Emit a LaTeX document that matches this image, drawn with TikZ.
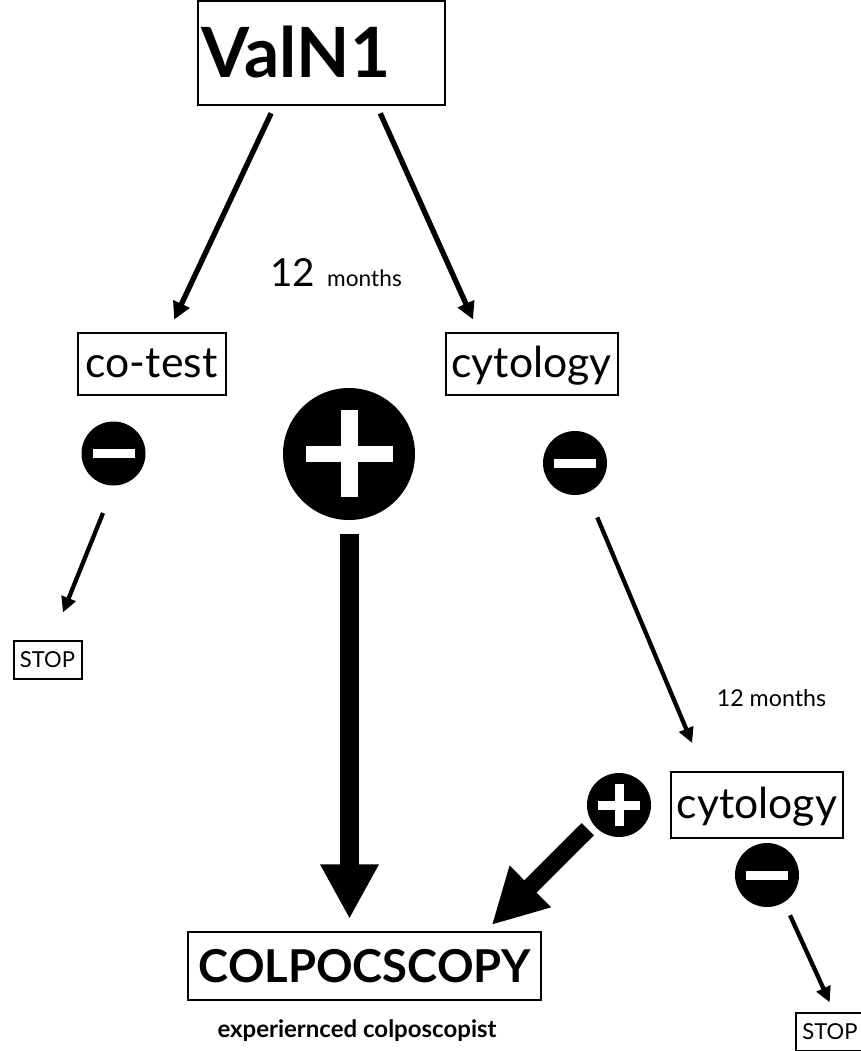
\documentclass[tikz,border=0pt]{standalone}
\usepackage{fontspec}
\setmainfont{Lato}
\usetikzlibrary{arrows.meta}

\tikzset{
	box/.style = {draw, line width = 1.5pt, inner sep = 0pt},
	word/.style = {font = \fontsize{32}{32}\selectfont, text height = 26pt, text depth = 6.5pt},
	stopword/.style = {font = \fontsize{16.5}{16.5}\selectfont},
	sign/.style = {circle, fill = black, inner sep = 0pt},
	thin arrow/.style = {-{Triangle[length = 13pt, width = 13pt]}, line width = 4pt},
	small arrow/.style = {-{Triangle[length = 11.5pt, width = 11pt]}, line width = 3.2pt},
	fat arrow/.style = {-{Triangle[length = 41pt, width = 41pt]}, line width = 14pt}
}

\begin{document}
\begin{tikzpicture}[x = 0.75pt, y = -0.75pt]

	% Frame

	\useasboundingbox (0, 0) rectangle (861, 1051);

	% Boxes

	\node [box, minimum width = 185pt, minimum height = 78pt] (valn1) at (321.5, 53) {};
	\node [font = \bfseries\fontsize{52}{52}\selectfont] (valname) at (296, 52) {ValN1};
	\node [box, word, minimum width = 111pt, minimum height = 47pt] (cotest) at (151.5, 364) {co-test};
	\node [box, word, minimum width = 129pt, minimum height = 47pt] (cytology) at (531.5, 364) {cytology};
	\node [box, word, minimum width = 129pt, minimum height = 49pt] (cytologyb) at (757, 805) {cytology};
	\node [box, stopword, minimum width = 51pt, minimum height = 29pt] (stopa) at (47.5, 660) {STOP};
	\node [box, stopword, minimum width = 51pt, minimum height = 29pt] (stopb) at (830, 1032) {STOP};
	\node [box, minimum width = 265pt, minimum height = 51pt, font = \bfseries\fontsize{34}{34}\selectfont] (colpo) at (364.5, 966) {COLPOCSCOPY};

	% Labels

	\node [font = \fontsize{29}{29}\selectfont] (twelve) at (292.5, 272) {12};
	\node [font = \fontsize{17}{17}\selectfont] (months) at (364.5, 278) {months};
	\node [font = \fontsize{17.4}{17.4}\selectfont] (monthsb) at (771.5, 698) {12 months};
	\node [font = \bfseries\fontsize{18}{18}\selectfont] (expert) at (357, 1031) {experiernced colposcopist};

	% Signs

	\node [sign, minimum size = 99pt] (plusbig) at (349, 454) {};
	\node [sign, minimum size = 48pt] (plussmall) at (619, 805) {};
	\node [sign, minimum size = 48pt] (minusa) at (113.5, 453.5) {};
	\node [sign, minimum size = 48pt] (minusb) at (575, 463) {};
	\node [sign, minimum size = 48pt] (minusc) at (767, 875) {};

	\fill [white] ([shift = {(-43, -8)}] plusbig.center) rectangle ([shift = {(44, 8)}] plusbig.center);
	\fill [white] ([shift = {(-8, -44)}] plusbig.center) rectangle ([shift = {(9, 43)}] plusbig.center);
	\fill [white] ([shift = {(-21, -4.5)}] plussmall.center) rectangle ([shift = {(21, 4.5)}] plussmall.center);
	\fill [white] ([shift = {(-4.5, -21)}] plussmall.center) rectangle ([shift = {(4.5, 21)}] plussmall.center);
	\foreach \sgn in {minusa, minusb, minusc}
		\fill [white] ([shift = {(-21, -4.5)}] \sgn.center) rectangle ([shift = {(21, 4.5)}] \sgn.center);

	% Arrows

	\draw [thin arrow, shorten < = 6pt, shorten > = 10pt] ([shift = {(-47, 0)}] valn1.south) -- ([shift = {(17, 0)}] cotest.north);
	\draw [thin arrow, shorten < = 6pt, shorten > = 10pt] ([shift = {(55.5, 0)}] valn1.south) -- ([shift = {(-53, 0)}] cytology.north);
	\draw [small arrow, shorten < = 22pt, shorten > = 22pt] ([shift = {(0.5, 0)}] minusa.south) -- ([shift = {(4.5, 0)}] stopa.north);
	\draw [small arrow, shorten < = 18pt, shorten > = 23pt] ([shift = {(13, 0)}] minusb.south) -- ([shift = {(-53, 0)}] cytologyb.north);
	\draw [small arrow, shorten < = 6.6pt, shorten > = 7.7pt] ([shift = {(19.4, 0)}] minusc.south) -- ([shift = {(4, 0)}] stopb.north);
	\draw [fat arrow, shorten < = 10pt, shorten > = 9pt] ([shift = {(0.5, 0)}] plusbig.south) -- ([shift = {(0.5, 0)}] plusbig.south |- colpo.north);
	\draw [fat arrow, line width = 13pt] ([shift = {(-8.4, 1.4)}] plussmall.-135) -- ([shift = {(-50.5, -6)}] colpo.north east);

\end{tikzpicture}
\end{document}
